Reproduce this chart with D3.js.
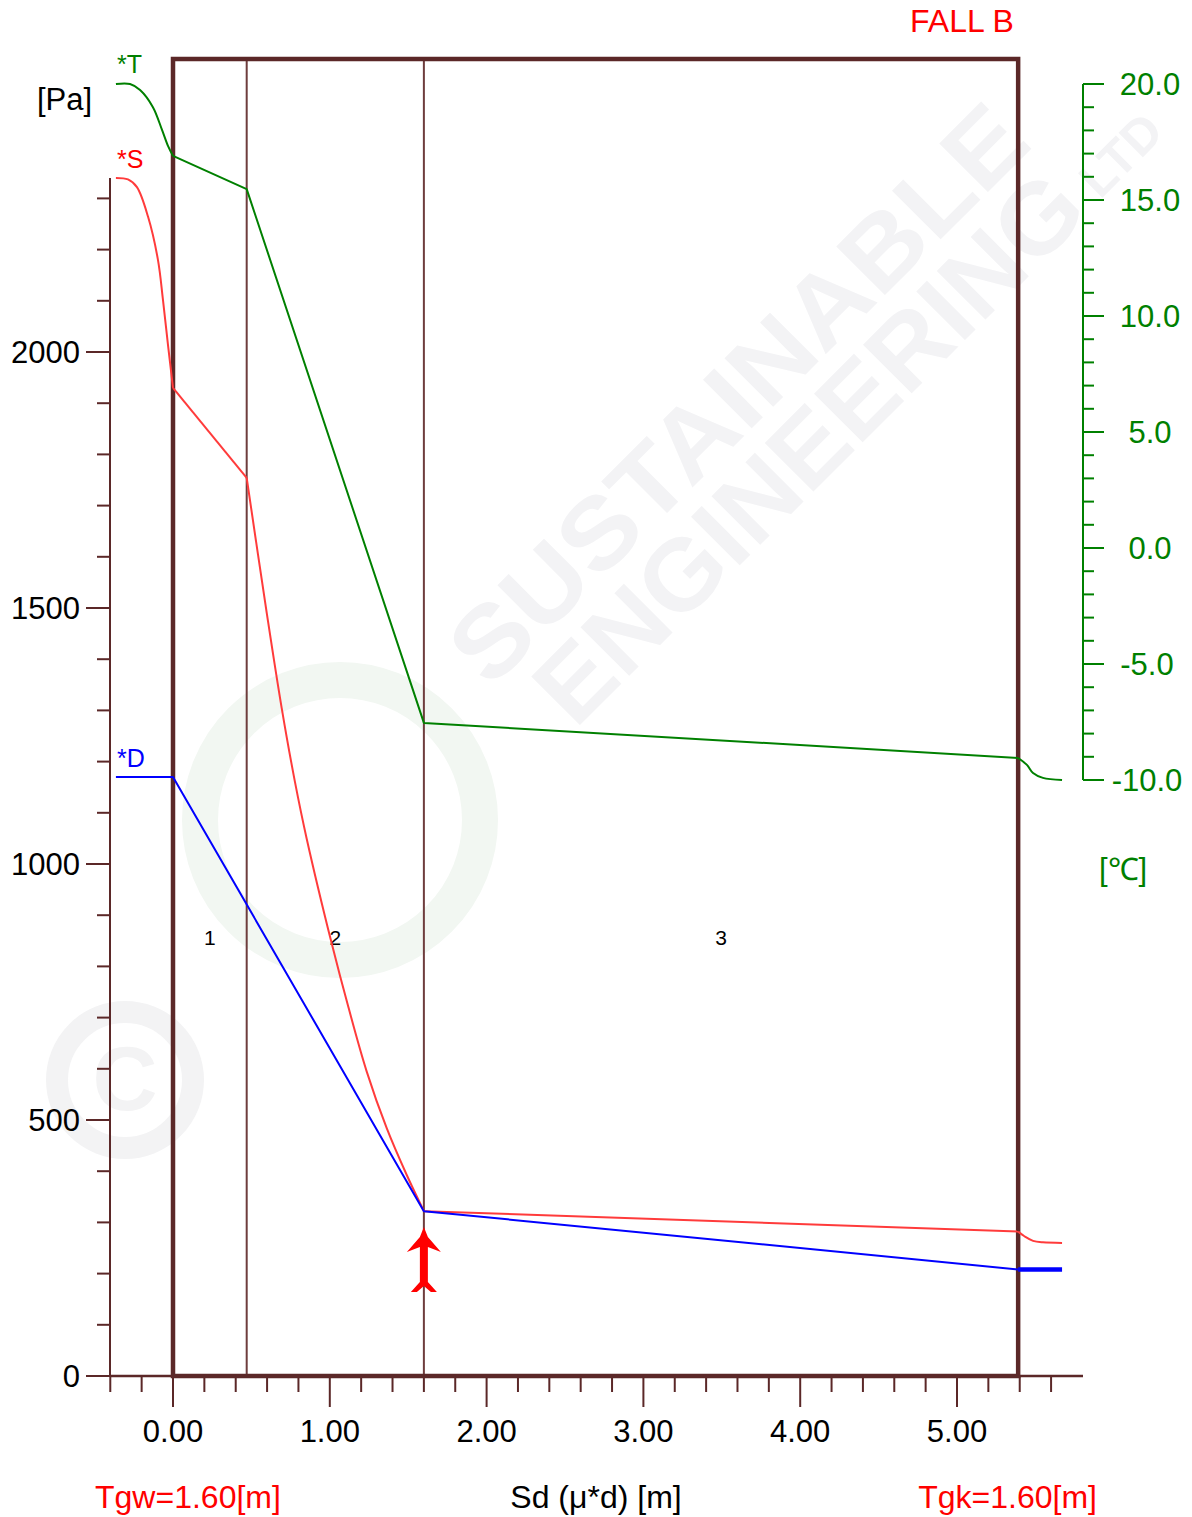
<!DOCTYPE html>
<html>
<head>
<meta charset="utf-8">
<script src="https://cdn.jsdelivr.net/npm/d3@7"></script>
<style>
  html, body { margin: 0; padding: 0; background: #fff; }
  svg { display: block; }
  text { font-family: "Liberation Sans", Arial, Helvetica, sans-serif; }
</style>
</head>
<body>
<svg id="chart" width="1192" height="1517"></svg>
<script>
// ---------------- DATA ----------------
const layerBounds = [0, 0.47, 1.60, 5.39];          // Sd positions of layer interfaces [m]
const layerLabels = ["1", "2", "3"];
const xTickMajor = [0, 1, 2, 3, 4, 5];
const xTickLabels = ["0.00", "1.00", "2.00", "3.00", "4.00", "5.00"];
const pTickMajor = [0, 500, 1000, 1500, 2000];
const pTickLabels = ["0", "500", "1000", "1500", "2000"];
const tTickMajor = [20, 15, 10, 5, 0, -5, -10];
const tTickLabels = ["20.0", "15.0", "10.0", "5.0", "0.0", "-5.0", "-10.0"];

// Temperature *T  [°C]
const tempX   = [-0.364, -0.274, -0.210, -0.128, -0.070, -0.032, 0.00, 0.47, 1.60, 5.39, 5.446, 5.485, 5.548, 5.67];
const tempVal = [20.0, 20.0, 19.74, 19.0, 18.02, 17.33, 16.9, 15.47, -7.54, -9.05, -9.35, -9.70, -9.91, -10.0];

// Saturation pressure *S  [Pa]
const satX   = [-0.364, -0.287, -0.230, -0.159, -0.096, -0.064, -0.032, 0.00,
                0.47, 0.598, 0.693, 0.778, 0.853, 1.012, 1.118, 1.235, 1.363, 1.490, 1.60,
                5.39, 5.43, 5.485, 5.548, 5.67];
const satVal = [2340, 2337, 2322, 2264, 2180, 2102, 2014, 1930,
                1754, 1490, 1305, 1160, 1049, 845, 721, 595, 484, 393, 322,
                282, 273, 264, 261, 260];

// Vapour pressure *D  [Pa]
const vapX   = [-0.364, 0.00, 1.60, 5.39];
const vapVal = [1170, 1170, 322, 208];
const vapOutX   = [5.39, 5.67];
const vapOutVal = [208, 208];

const condensationPlane = 1.60;

// ---------------- LAYOUT ----------------
const svg = d3.select("#chart");
const brown = "#5b2828";
const green = "#008000";
const red = "#ff0000";
const redLine = "#ff3b3b";
const blue = "#0000ff";

const x  = d3.scaleLinear().domain([0, 5]).range([173, 957]);
const yP = d3.scaleLinear().domain([0, 2000]).range([1376, 352]);
const yT = d3.scaleLinear().domain([-10, 20]).range([780, 84]);

const frameTop = 59;
const leftAxisX = 110;
const rightAxisX = 1083;

// ---------------- WATERMARK ----------------
const wm = svg.append("g").attr("pointer-events", "none");
wm.append("circle").attr("cx", 340).attr("cy", 820).attr("r", 140)
  .attr("fill", "none").attr("stroke", "#f2f7f2").attr("stroke-width", 36);
wm.append("circle").attr("cx", 125).attr("cy", 1080).attr("r", 68)
  .attr("fill", "none").attr("stroke", "#f3f3f4").attr("stroke-width", 22);
wm.append("text").attr("x", 125).attr("y", 1110).attr("text-anchor", "middle")
  .attr("font-size", 90).attr("font-weight", "bold").attr("fill", "#f3f3f4").text("C");
wm.append("text")
  .attr("transform", "translate(490,690) rotate(-45)")
  .attr("font-size", 100).attr("font-weight", "bold").attr("fill", "#f3f3f5")
  .attr("textLength", 770).attr("lengthAdjust", "spacingAndGlyphs")
  .text("SUSTAINABLE");
wm.append("text")
  .attr("transform", "translate(575,730) rotate(-45)")
  .attr("font-size", 100).attr("font-weight", "bold").attr("fill", "#f3f3f5")
  .attr("textLength", 730).attr("lengthAdjust", "spacingAndGlyphs")
  .text("ENGINEERING");
wm.append("text")
  .attr("transform", "translate(1100,200) rotate(-45)")
  .attr("font-size", 50).attr("font-weight", "bold").attr("fill", "#f3f3f5")
  .text("LTD");

// ---------------- AXES ----------------
// Left pressure axis
svg.append("line").attr("x1", leftAxisX).attr("x2", leftAxisX)
  .attr("y1", yP(2340)).attr("y2", yP(0)).attr("stroke", brown).attr("stroke-width", 2);
const pMinor = d3.range(0, 2301, 100);
svg.append("g").selectAll("line").data(pMinor).join("line")
  .attr("x1", d => pTickMajor.includes(d) ? 86 : 97).attr("x2", leftAxisX)
  .attr("y1", d => yP(d)).attr("y2", d => yP(d))
  .attr("stroke", brown).attr("stroke-width", 2);
svg.append("g").selectAll("text").data(pTickMajor).join("text")
  .attr("x", 80).attr("y", d => yP(d) + 11)
  .attr("text-anchor", "end").attr("font-size", 31).attr("fill", "#000")
  .text((d, i) => pTickLabels[i]);

// Bottom Sd axis
svg.append("line").attr("x1", leftAxisX).attr("x2", 1083)
  .attr("y1", yP(0)).attr("y2", yP(0)).attr("stroke", brown).attr("stroke-width", 2.5);
const xMinor = d3.range(-2, 29).map(i => i * 0.2);
svg.append("g").selectAll("line").data(xMinor).join("line")
  .attr("x1", d => x(d)).attr("x2", d => x(d))
  .attr("y1", yP(0)).attr("y2", d => Math.abs(d - Math.round(d)) < 1e-6 ? 1407 : 1392)
  .attr("stroke", brown).attr("stroke-width", 2);
svg.append("g").selectAll("text").data(xTickMajor).join("text")
  .attr("x", d => x(d)).attr("y", 1442)
  .attr("text-anchor", "middle").attr("font-size", 31).attr("fill", "#000")
  .text((d, i) => xTickLabels[i]);

// Right temperature axis
svg.append("line").attr("x1", rightAxisX).attr("x2", rightAxisX)
  .attr("y1", yT(20)).attr("y2", yT(-10)).attr("stroke", green).attr("stroke-width", 2);
const tMinor = d3.range(-10, 21, 1);
svg.append("g").selectAll("line").data(tMinor).join("line")
  .attr("x1", rightAxisX).attr("x2", d => d % 5 === 0 ? 1104 : 1094)
  .attr("y1", d => yT(d)).attr("y2", d => yT(d))
  .attr("stroke", green).attr("stroke-width", 2);
svg.append("g").selectAll("text").data(tTickMajor).join("text")
  .attr("x", d => d < 0 ? 1147 : 1150).attr("y", d => yT(d) + 11)
  .attr("text-anchor", "middle").attr("font-size", 31).attr("fill", green)
  .text((d, i) => tTickLabels[i]);

// ---------------- FRAME & LAYERS ----------------
svg.append("g").selectAll("line").data(layerBounds.slice(1, -1)).join("line")
  .attr("x1", d => x(d)).attr("x2", d => x(d))
  .attr("y1", frameTop).attr("y2", yP(0))
  .attr("stroke", "#6e3d3d").attr("stroke-width", 2);
svg.append("rect")
  .attr("x", x(layerBounds[0])).attr("y", frameTop)
  .attr("width", x(layerBounds[layerBounds.length - 1]) - x(layerBounds[0]))
  .attr("height", yP(0) - frameTop)
  .attr("fill", "none").attr("stroke", brown).attr("stroke-width", 4.5);

svg.append("g").selectAll("text").data(layerLabels).join("text")
  .attr("x", (d, i) => (x(layerBounds[i]) + x(layerBounds[i + 1])) / 2)
  .attr("y", 945).attr("text-anchor", "middle").attr("font-size", 21).attr("fill", "#000")
  .text(d => d);

// ---------------- SERIES ----------------
function drawPieces(xs, vs, yScale, pieces, color, width) {
  const pts = xs.map((v, i) => [x(v), yScale(vs[i])]);
  pieces.forEach(([a, b, curve]) => {
    svg.append("path")
      .attr("d", d3.line().curve(curve)(pts.slice(a, b + 1)))
      .attr("fill", "none").attr("stroke", color).attr("stroke-width", width)
      .attr("stroke-linejoin", "round");
  });
}
const smooth = d3.curveCatmullRom.alpha(0.5);

// Temperature
drawPieces(tempX, tempVal, yT,
  [[0, 6, smooth], [6, 9, d3.curveLinear], [9, 13, smooth]],
  green, 2);
// Saturation
drawPieces(satX, satVal, yP,
  [[0, 7, smooth], [7, 8, d3.curveLinear], [8, 18, smooth],
   [18, 19, d3.curveLinear], [19, 23, smooth]],
  redLine, 2);
// Vapour
drawPieces(vapX, vapVal, yP, [[0, 3, d3.curveLinear]], blue, 2);
drawPieces(vapOutX, vapOutVal, yP, [[0, 1, d3.curveLinear]], blue, 4.5);

// Condensation arrow
const ax = x(condensationPlane), ay = 1227;
const arrow = [[0,0],[-4,10],[-17,25],[-4,20],[-4,55],[-13,65],[-7,65],[0,59],[7,65],[13,65],[4,55],[4,20],[17,25],[4,10]];
svg.append("path")
  .attr("d", d3.line()(arrow.map(p => [ax + p[0], ay + p[1]])) + "Z")
  .attr("fill", red);

// ---------------- LABELS ----------------
svg.append("text").attr("x", 117).attr("y", 73).attr("font-size", 25).attr("fill", green).text("*T");
svg.append("text").attr("x", 117).attr("y", 168).attr("font-size", 25).attr("fill", red).text("*S");
svg.append("text").attr("x", 117).attr("y", 767).attr("font-size", 25).attr("fill", blue).text("*D");
svg.append("text").attr("x", 37).attr("y", 110).attr("font-size", 31).attr("fill", "#000").text("[Pa]");
svg.append("text").attr("x", 1099).attr("y", 880).attr("font-size", 31).attr("fill", green).text("[℃]");
svg.append("text").attr("x", 910).attr("y", 32).attr("font-size", 32).attr("fill", red).text("FALL B");
svg.append("text").attr("x", 95).attr("y", 1508).attr("font-size", 32).attr("fill", red).text("Tgw=1.60[m]");
svg.append("text").attr("x", 596).attr("y", 1508).attr("text-anchor", "middle").attr("font-size", 32).attr("fill", "#000").text("Sd (μ*d) [m]");
svg.append("text").attr("x", 1097).attr("y", 1508).attr("text-anchor", "end").attr("font-size", 32).attr("fill", red).text("Tgk=1.60[m]");
</script>
</body>
</html>
